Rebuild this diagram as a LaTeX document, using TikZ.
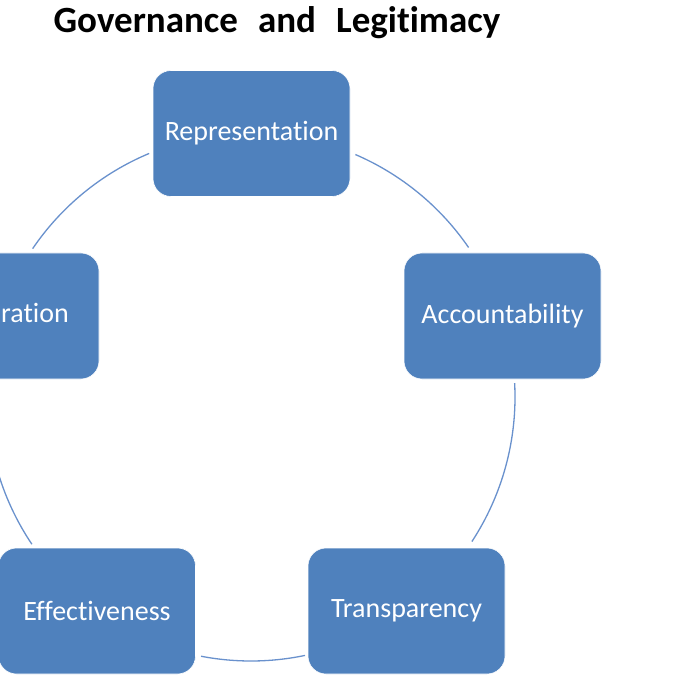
\documentclass[tikz,border=0pt]{standalone}
\usepackage{fontspec}
\setmainfont{Carlito}[RawFeature={-liga}]
\newfontfamily\titlefont[WordSpace=2.4,RawFeature={-liga}]{Carlito}
\usetikzlibrary{calc}
\definecolor{boxblue}{RGB}{79,129,189}
\definecolor{arcblue}{RGB}{105,145,205}
\tikzset{
  cyclebox/.style={draw=white, line width=0.6pt, fill=boxblue, rounded corners=18pt,
    minimum width=197pt, minimum height=126pt, inner sep=0pt, text=white,
    font=\fontsize{28}{33}\selectfont},
  cyclearc/.style={draw=arcblue, line width=1.3pt},
  titletext/.style={font=\titlefont\bfseries\fontsize{37}{44}\selectfont, inner sep=0pt}
}
\begin{document}
\begin{tikzpicture}[x=1pt,y=-1pt]
\clip (0,0) rectangle (700,700);
\fill[white] (0,0) rectangle (700,700);
\node[titletext, anchor=base] (title) at (277,33) {Governance and Legitimacy};
\coordinate (C) at (251,397);
% arcs
\draw[cyclearc] ($(C)+(66.7:264pt)$) arc[start angle=66.7, end angle=34.5, radius=264pt];
\draw[cyclearc] ($(C)+(3:264pt)$) arc[start angle=3, end angle=-33.2, radius=264pt];
\draw[cyclearc] ($(C)+(-78.2:264pt)$) arc[start angle=-78.2, end angle=-100.9, radius=264pt];
\draw[cyclearc] ($(C)+(213.9:264pt)$) arc[start angle=213.9, end angle=177.2, radius=264pt];
\draw[cyclearc] ($(C)+(145.8:264pt)$) arc[start angle=145.8, end angle=112.7, radius=264pt];
% boxes
\node[cyclebox] (rep) at (251.5,133.5) {Representation};
\node[cyclebox] (acc) at (502.5,316) {Accountability};
\node[cyclebox] (tra) at (406.5,611) {Transparency};
\node[cyclebox] (eff) at (97,611) {Effectiveness};
\node[cyclebox] (lft) at (0.5,316) {};
\node[text=white, font=\fontsize{28}{33}\selectfont, anchor=base east, inner sep=0pt] (lfttext) at (69,322) {eration};
\end{tikzpicture}
\end{document}
